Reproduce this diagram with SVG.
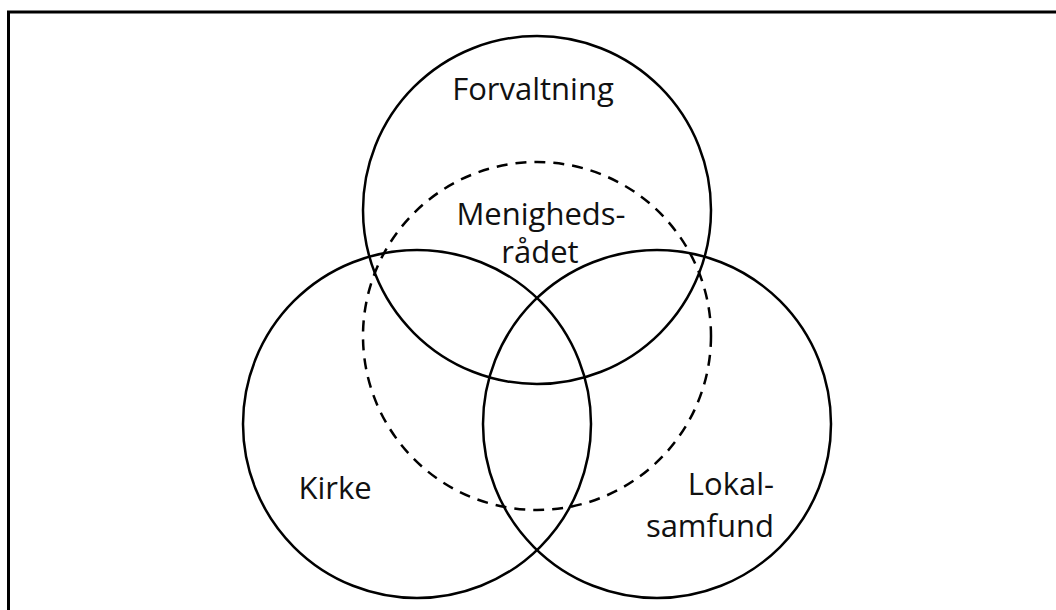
<svg xmlns="http://www.w3.org/2000/svg" width="1056" height="610" viewBox="0 0 1056 610">
<style>
.c{fill:none;stroke:#000;stroke-width:2.5}
.d{fill:none;stroke:#000;stroke-width:2.5;stroke-dasharray:11 8}
.t{font-family:"Open Sans","Liberation Sans",sans-serif;font-size:31px;fill:#111}
</style>
<rect width="1056" height="610" fill="#fff"/>
<path d="M8.5 610 V12 H1056" fill="none" stroke="#000" stroke-width="3"/>
<g id="forvaltning"><circle class="c" cx="537" cy="210" r="174"/><text class="t" x="533" y="100" text-anchor="middle">Forvaltning</text></g>
<g id="kirke"><circle class="c" cx="417" cy="424" r="174"/><text class="t" x="335" y="499" text-anchor="middle">Kirke</text></g>
<g id="lokalsamfund"><circle class="c" cx="657" cy="424" r="174"/><text class="t" text-anchor="end"><tspan x="774" y="495">Lokal-</tspan><tspan x="774" y="537">samfund</tspan></text></g>
<g id="menighedsraadet"><circle class="d" cx="537" cy="336" r="174"/><text class="t" text-anchor="middle"><tspan x="541" y="225">Menigheds-</tspan><tspan x="540" y="263">rådet</tspan></text></g>
<g id="connectors"/>
</svg>
